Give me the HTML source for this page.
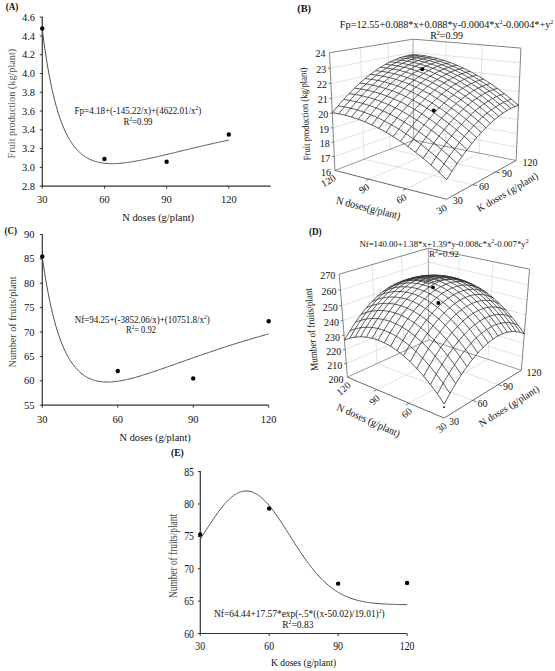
<!DOCTYPE html><html><head><meta charset="utf-8"><style>html,body{margin:0;padding:0;background:#fff;width:555px;height:671px;overflow:hidden}svg{display:block}</style></head><body><svg width="555" height="671" viewBox="0 0 555 671" font-family="'Liberation Serif', serif">
<rect width="555" height="671" fill="#fff"/>
<line x1="42.30" y1="16.70" x2="42.30" y2="186.60" stroke="#333" stroke-width="1.2"/>
<line x1="41.80" y1="186.10" x2="270.70" y2="186.10" stroke="#333" stroke-width="1.2"/>
<line x1="39.80" y1="186.10" x2="42.30" y2="186.10" stroke="#333" stroke-width="1"/>
<text x="35.00" y="189.70" font-size="10.5" text-anchor="end" fill="#111" >2.8</text>
<line x1="39.80" y1="167.33" x2="42.30" y2="167.33" stroke="#333" stroke-width="1"/>
<text x="35.00" y="170.93" font-size="10.5" text-anchor="end" fill="#111" >3.0</text>
<line x1="39.80" y1="148.57" x2="42.30" y2="148.57" stroke="#333" stroke-width="1"/>
<text x="35.00" y="152.17" font-size="10.5" text-anchor="end" fill="#111" >3.2</text>
<line x1="39.80" y1="129.80" x2="42.30" y2="129.80" stroke="#333" stroke-width="1"/>
<text x="35.00" y="133.40" font-size="10.5" text-anchor="end" fill="#111" >3.4</text>
<line x1="39.80" y1="111.03" x2="42.30" y2="111.03" stroke="#333" stroke-width="1"/>
<text x="35.00" y="114.63" font-size="10.5" text-anchor="end" fill="#111" >3.6</text>
<line x1="39.80" y1="92.27" x2="42.30" y2="92.27" stroke="#333" stroke-width="1"/>
<text x="35.00" y="95.87" font-size="10.5" text-anchor="end" fill="#111" >3.8</text>
<line x1="39.80" y1="73.50" x2="42.30" y2="73.50" stroke="#333" stroke-width="1"/>
<text x="35.00" y="77.10" font-size="10.5" text-anchor="end" fill="#111" >4.0</text>
<line x1="39.80" y1="54.73" x2="42.30" y2="54.73" stroke="#333" stroke-width="1"/>
<text x="35.00" y="58.33" font-size="10.5" text-anchor="end" fill="#111" >4.2</text>
<line x1="39.80" y1="35.97" x2="42.30" y2="35.97" stroke="#333" stroke-width="1"/>
<text x="35.00" y="39.57" font-size="10.5" text-anchor="end" fill="#111" >4.4</text>
<line x1="39.80" y1="17.20" x2="42.30" y2="17.20" stroke="#333" stroke-width="1"/>
<text x="35.00" y="20.80" font-size="10.5" text-anchor="end" fill="#111" >4.6</text>
<line x1="42.25" y1="186.10" x2="42.25" y2="188.60" stroke="#333" stroke-width="1"/>
<line x1="104.43" y1="186.10" x2="104.43" y2="188.60" stroke="#333" stroke-width="1"/>
<line x1="166.62" y1="186.10" x2="166.62" y2="188.60" stroke="#333" stroke-width="1"/>
<line x1="228.80" y1="186.10" x2="228.80" y2="188.60" stroke="#333" stroke-width="1"/>
<polyline points="42.25,28.94 43.19,36.40 44.12,43.44 45.06,50.08 46.00,56.36 46.94,62.29 47.87,67.89 48.81,73.19 49.75,78.20 50.69,82.94 51.62,87.42 52.56,91.67 53.50,95.69 54.44,99.50 55.37,103.11 56.31,106.52 57.25,109.76 58.19,112.83 59.12,115.75 60.06,118.51 61.00,121.12 61.94,123.60 62.87,125.96 63.81,128.19 64.75,130.30 65.69,132.31 66.62,134.21 67.56,136.02 68.50,137.73 69.44,139.35 70.37,140.89 71.31,142.35 72.25,143.73 73.19,145.04 74.12,146.28 75.06,147.45 76.00,148.56 76.94,149.61 77.87,150.60 78.81,151.54 79.75,152.43 80.68,153.27 81.62,154.06 82.56,154.81 83.50,155.51 84.43,156.17 85.37,156.79 86.31,157.38 87.25,157.93 88.18,158.45 89.12,158.93 90.06,159.38 91.00,159.80 91.93,160.20 92.87,160.56 93.81,160.90 94.75,161.22 95.68,161.51 96.62,161.78 97.56,162.02 98.50,162.25 99.43,162.46 100.37,162.64 101.31,162.81 102.25,162.96 103.18,163.09 104.12,163.21 105.06,163.31 106.00,163.40 106.93,163.47 107.87,163.53 108.81,163.58 109.75,163.61 110.68,163.63 111.62,163.64 112.56,163.64 113.50,163.63 114.43,163.61 115.37,163.58 116.31,163.54 117.24,163.49 118.18,163.43 119.12,163.36 120.06,163.29 120.99,163.21 121.93,163.12 122.87,163.02 123.81,162.92 124.74,162.81 125.68,162.70 126.62,162.58 127.56,162.45 128.49,162.32 129.43,162.19 130.37,162.05 131.31,161.90 132.24,161.75 133.18,161.60 134.12,161.44 135.06,161.28 135.99,161.11 136.93,160.94 137.87,160.77 138.81,160.59 139.74,160.41 140.68,160.23 141.62,160.05 142.56,159.86 143.49,159.67 144.43,159.48 145.37,159.28 146.31,159.09 147.24,158.89 148.18,158.69 149.12,158.49 150.06,158.28 150.99,158.08 151.93,157.87 152.87,157.66 153.81,157.45 154.74,157.24 155.68,157.02 156.62,156.81 157.55,156.60 158.49,156.38 159.43,156.16 160.37,155.94 161.30,155.73 162.24,155.51 163.18,155.29 164.12,155.06 165.05,154.84 165.99,154.62 166.93,154.40 167.87,154.17 168.80,153.95 169.74,153.73 170.68,153.50 171.62,153.28 172.55,153.05 173.49,152.83 174.43,152.60 175.37,152.38 176.30,152.15 177.24,151.93 178.18,151.70 179.12,151.48 180.05,151.25 180.99,151.03 181.93,150.80 182.87,150.58 183.80,150.35 184.74,150.13 185.68,149.90 186.62,149.68 187.55,149.46 188.49,149.23 189.43,149.01 190.37,148.78 191.30,148.56 192.24,148.34 193.18,148.12 194.11,147.90 195.05,147.67 195.99,147.45 196.93,147.23 197.86,147.01 198.80,146.79 199.74,146.57 200.68,146.35 201.61,146.14 202.55,145.92 203.49,145.70 204.43,145.48 205.36,145.27 206.30,145.05 207.24,144.84 208.18,144.62 209.11,144.41 210.05,144.19 210.99,143.98 211.93,143.77 212.86,143.55 213.80,143.34 214.74,143.13 215.68,142.92 216.61,142.71 217.55,142.50 218.49,142.30 219.43,142.09 220.36,141.88 221.30,141.67 222.24,141.47 223.18,141.26 224.11,141.06 225.05,140.86 225.99,140.65 226.93,140.45 227.86,140.25 228.80,140.05" stroke="#505050" stroke-width="1.0" fill="none"/>
<circle cx="42.25" cy="28.46" r="2.2" fill="#000"/>
<circle cx="104.43" cy="158.89" r="2.2" fill="#000"/>
<circle cx="166.62" cy="161.70" r="2.2" fill="#000"/>
<circle cx="228.80" cy="134.49" r="2.2" fill="#000"/>
<text x="42.25" y="203.20" font-size="10.5" text-anchor="middle" fill="#111" >30</text>
<text x="104.43" y="203.20" font-size="10.5" text-anchor="middle" fill="#111" >60</text>
<text x="166.62" y="203.20" font-size="10.5" text-anchor="middle" fill="#111" >90</text>
<text x="228.80" y="203.20" font-size="10.5" text-anchor="middle" fill="#111" >120</text>
<text x="5.70" y="9.90" font-size="9.5" text-anchor="start" fill="#111" font-weight="bold" textLength="12.70" lengthAdjust="spacingAndGlyphs" >(A)</text>
<text x="122.30" y="221.00" font-size="11" text-anchor="start" fill="#111" textLength="71.70" lengthAdjust="spacingAndGlyphs" >N doses (g/plant)</text>
<text x="14.60" y="158.40" font-size="11" text-anchor="start" fill="#555" textLength="109.60" lengthAdjust="spacingAndGlyphs" transform="rotate(-90.00 14.60 158.40)" >Fruit production (kg/plant)</text>
<text x="74.50" y="113.60" font-size="10" text-anchor="start" fill="#111" textLength="126.80" lengthAdjust="spacingAndGlyphs" >Fp=4.18+(-145.22/x)+(4622.01/x<tspan dy="-4" font-size="6">2</tspan><tspan dy="4">)</tspan></text>
<text x="123.50" y="125.20" font-size="10" text-anchor="start" fill="#111" textLength="29.00" lengthAdjust="spacingAndGlyphs" >R<tspan dy="-4" font-size="6">2</tspan><tspan dy="4">=0.99</tspan></text>
<line x1="42.30" y1="234.00" x2="42.30" y2="405.70" stroke="#333" stroke-width="1.2"/>
<line x1="41.80" y1="405.20" x2="268.70" y2="405.20" stroke="#333" stroke-width="1.2"/>
<line x1="39.80" y1="405.20" x2="42.30" y2="405.20" stroke="#333" stroke-width="1"/>
<text x="34.50" y="408.80" font-size="10.5" text-anchor="end" fill="#111" >55</text>
<line x1="39.80" y1="380.81" x2="42.30" y2="380.81" stroke="#333" stroke-width="1"/>
<text x="34.50" y="384.41" font-size="10.5" text-anchor="end" fill="#111" >60</text>
<line x1="39.80" y1="356.43" x2="42.30" y2="356.43" stroke="#333" stroke-width="1"/>
<text x="34.50" y="360.03" font-size="10.5" text-anchor="end" fill="#111" >65</text>
<line x1="39.80" y1="332.04" x2="42.30" y2="332.04" stroke="#333" stroke-width="1"/>
<text x="34.50" y="335.64" font-size="10.5" text-anchor="end" fill="#111" >70</text>
<line x1="39.80" y1="307.66" x2="42.30" y2="307.66" stroke="#333" stroke-width="1"/>
<text x="34.50" y="311.26" font-size="10.5" text-anchor="end" fill="#111" >75</text>
<line x1="39.80" y1="283.27" x2="42.30" y2="283.27" stroke="#333" stroke-width="1"/>
<text x="34.50" y="286.87" font-size="10.5" text-anchor="end" fill="#111" >80</text>
<line x1="39.80" y1="258.89" x2="42.30" y2="258.89" stroke="#333" stroke-width="1"/>
<text x="34.50" y="262.49" font-size="10.5" text-anchor="end" fill="#111" >85</text>
<line x1="39.80" y1="234.50" x2="42.30" y2="234.50" stroke="#333" stroke-width="1"/>
<text x="34.50" y="238.10" font-size="10.5" text-anchor="end" fill="#111" >90</text>
<line x1="42.30" y1="405.20" x2="42.30" y2="407.70" stroke="#333" stroke-width="1"/>
<line x1="117.77" y1="405.20" x2="117.77" y2="407.70" stroke="#333" stroke-width="1"/>
<line x1="193.23" y1="405.20" x2="193.23" y2="407.70" stroke="#333" stroke-width="1"/>
<line x1="268.70" y1="405.20" x2="268.70" y2="407.70" stroke="#333" stroke-width="1"/>
<polyline points="42.30,257.36 43.44,265.24 44.58,272.64 45.71,279.60 46.85,286.13 47.99,292.28 49.13,298.07 50.26,303.51 51.40,308.63 52.54,313.45 53.68,317.98 54.81,322.25 55.95,326.27 57.09,330.05 58.23,333.61 59.37,336.96 60.50,340.11 61.64,343.08 62.78,345.87 63.92,348.50 65.05,350.97 66.19,353.29 67.33,355.48 68.47,357.53 69.60,359.45 70.74,361.26 71.88,362.95 73.02,364.54 74.16,366.03 75.29,367.43 76.43,368.73 77.57,369.95 78.71,371.08 79.84,372.14 80.98,373.12 82.12,374.04 83.26,374.89 84.39,375.68 85.53,376.40 86.67,377.08 87.81,377.69 88.95,378.26 90.08,378.77 91.22,379.25 92.36,379.67 93.50,380.06 94.63,380.40 95.77,380.71 96.91,380.98 98.05,381.21 99.18,381.42 100.32,381.59 101.46,381.73 102.60,381.85 103.74,381.93 104.87,381.99 106.01,382.03 107.15,382.04 108.29,382.03 109.42,382.00 110.56,381.95 111.70,381.89 112.84,381.80 113.97,381.69 115.11,381.57 116.25,381.43 117.39,381.28 118.53,381.12 119.66,380.94 120.80,380.74 121.94,380.54 123.08,380.32 124.21,380.09 125.35,379.85 126.49,379.60 127.63,379.34 128.76,379.08 129.90,378.80 131.04,378.51 132.18,378.22 133.32,377.92 134.45,377.62 135.59,377.30 136.73,376.98 137.87,376.66 139.00,376.32 140.14,375.99 141.28,375.64 142.42,375.30 143.55,374.95 144.69,374.59 145.83,374.23 146.97,373.87 148.11,373.50 149.24,373.13 150.38,372.76 151.52,372.38 152.66,372.00 153.79,371.62 154.93,371.24 156.07,370.85 157.21,370.46 158.34,370.07 159.48,369.68 160.62,369.29 161.76,368.89 162.89,368.49 164.03,368.10 165.17,367.70 166.31,367.30 167.45,366.90 168.58,366.50 169.72,366.10 170.86,365.69 172.00,365.29 173.13,364.89 174.27,364.48 175.41,364.08 176.55,363.68 177.68,363.27 178.82,362.87 179.96,362.46 181.10,362.06 182.24,361.66 183.37,361.25 184.51,360.85 185.65,360.45 186.79,360.05 187.92,359.64 189.06,359.24 190.20,358.84 191.34,358.44 192.47,358.04 193.61,357.65 194.75,357.25 195.89,356.85 197.03,356.46 198.16,356.06 199.30,355.67 200.44,355.27 201.58,354.88 202.71,354.49 203.85,354.10 204.99,353.71 206.13,353.32 207.26,352.93 208.40,352.55 209.54,352.16 210.68,351.78 211.82,351.39 212.95,351.01 214.09,350.63 215.23,350.25 216.37,349.87 217.50,349.50 218.64,349.12 219.78,348.75 220.92,348.37 222.05,348.00 223.19,347.63 224.33,347.26 225.47,346.89 226.61,346.53 227.74,346.16 228.88,345.80 230.02,345.43 231.16,345.07 232.29,344.71 233.43,344.35 234.57,344.00 235.71,343.64 236.84,343.29 237.98,342.93 239.12,342.58 240.26,342.23 241.40,341.88 242.53,341.53 243.67,341.19 244.81,340.84 245.95,340.50 247.08,340.16 248.22,339.82 249.36,339.48 250.50,339.14 251.63,338.80 252.77,338.47 253.91,338.13 255.05,337.80 256.19,337.47 257.32,337.14 258.46,336.81 259.60,336.48 260.74,336.16 261.87,335.83 263.01,335.51 264.15,335.19 265.29,334.87 266.42,334.55 267.56,334.23 268.70,333.92" stroke="#505050" stroke-width="1.0" fill="none"/>
<circle cx="42.30" cy="256.45" r="2.2" fill="#000"/>
<circle cx="117.77" cy="371.06" r="2.2" fill="#000"/>
<circle cx="193.23" cy="378.38" r="2.2" fill="#000"/>
<circle cx="268.70" cy="321.31" r="2.2" fill="#000"/>
<text x="42.30" y="423.00" font-size="10.5" text-anchor="middle" fill="#111" >30</text>
<text x="117.77" y="423.00" font-size="10.5" text-anchor="middle" fill="#111" >60</text>
<text x="193.23" y="423.00" font-size="10.5" text-anchor="middle" fill="#111" >90</text>
<text x="268.70" y="423.00" font-size="10.5" text-anchor="middle" fill="#111" >120</text>
<text x="4.60" y="233.70" font-size="9.5" text-anchor="start" fill="#111" font-weight="bold" textLength="12.40" lengthAdjust="spacingAndGlyphs" >(C)</text>
<text x="119.60" y="441.20" font-size="11" text-anchor="start" fill="#111" textLength="71.10" lengthAdjust="spacingAndGlyphs" >N doses (g/plant)</text>
<text x="16.20" y="367.40" font-size="11" text-anchor="start" fill="#3a3a3a" textLength="91.00" lengthAdjust="spacingAndGlyphs" transform="rotate(-90.00 16.20 367.40)" >Number of fruits/plant</text>
<text x="74.70" y="323.40" font-size="10" text-anchor="start" fill="#111" textLength="135.00" lengthAdjust="spacingAndGlyphs" >Nf=94.25+(-3852.06/x)+(10751.8/x<tspan dy="-4" font-size="6">2</tspan><tspan dy="4">)</tspan></text>
<text x="126.00" y="333.40" font-size="10" text-anchor="start" fill="#111" textLength="30.00" lengthAdjust="spacingAndGlyphs" >R<tspan dy="-4" font-size="6">2</tspan><tspan dy="4">= 0.92</tspan></text>
<line x1="200.30" y1="471.10" x2="200.30" y2="634.00" stroke="#333" stroke-width="1.2"/>
<line x1="199.80" y1="633.50" x2="407.10" y2="633.50" stroke="#333" stroke-width="1.2"/>
<line x1="197.80" y1="633.50" x2="200.30" y2="633.50" stroke="#333" stroke-width="1"/>
<text x="194.00" y="637.50" font-size="11.5" text-anchor="end" fill="#111" textLength="9.80" lengthAdjust="spacingAndGlyphs" >60</text>
<line x1="197.80" y1="601.12" x2="200.30" y2="601.12" stroke="#333" stroke-width="1"/>
<text x="194.00" y="605.12" font-size="11.5" text-anchor="end" fill="#111" textLength="9.80" lengthAdjust="spacingAndGlyphs" >65</text>
<line x1="197.80" y1="568.74" x2="200.30" y2="568.74" stroke="#333" stroke-width="1"/>
<text x="194.00" y="572.74" font-size="11.5" text-anchor="end" fill="#111" textLength="9.80" lengthAdjust="spacingAndGlyphs" >70</text>
<line x1="197.80" y1="536.36" x2="200.30" y2="536.36" stroke="#333" stroke-width="1"/>
<text x="194.00" y="540.36" font-size="11.5" text-anchor="end" fill="#111" textLength="9.80" lengthAdjust="spacingAndGlyphs" >75</text>
<line x1="197.80" y1="503.98" x2="200.30" y2="503.98" stroke="#333" stroke-width="1"/>
<text x="194.00" y="507.98" font-size="11.5" text-anchor="end" fill="#111" textLength="9.80" lengthAdjust="spacingAndGlyphs" >80</text>
<line x1="197.80" y1="471.60" x2="200.30" y2="471.60" stroke="#333" stroke-width="1"/>
<text x="194.00" y="475.60" font-size="11.5" text-anchor="end" fill="#111" textLength="9.80" lengthAdjust="spacingAndGlyphs" >85</text>
<line x1="200.20" y1="633.50" x2="200.20" y2="636.00" stroke="#333" stroke-width="1"/>
<line x1="269.17" y1="633.50" x2="269.17" y2="636.00" stroke="#333" stroke-width="1"/>
<line x1="338.13" y1="633.50" x2="338.13" y2="636.00" stroke="#333" stroke-width="1"/>
<line x1="407.10" y1="633.50" x2="407.10" y2="636.00" stroke="#333" stroke-width="1"/>
<polyline points="200.20,539.40 201.24,537.76 202.28,536.12 203.32,534.47 204.36,532.83 205.40,531.20 206.44,529.57 207.48,527.94 208.52,526.33 209.56,524.72 210.60,523.13 211.64,521.56 212.68,520.00 213.72,518.46 214.76,516.95 215.80,515.46 216.84,513.99 217.87,512.55 218.91,511.14 219.95,509.77 220.99,508.43 222.03,507.12 223.07,505.86 224.11,504.63 225.15,503.45 226.19,502.31 227.23,501.22 228.27,500.17 229.31,499.17 230.35,498.23 231.39,497.33 232.43,496.49 233.47,495.71 234.51,494.98 235.55,494.31 236.59,493.69 237.63,493.14 238.67,492.65 239.71,492.22 240.75,491.85 241.79,491.55 242.83,491.31 243.87,491.13 244.91,491.01 245.95,490.97 246.99,490.98 248.03,491.06 249.07,491.20 250.11,491.41 251.15,491.68 252.18,492.02 253.22,492.41 254.26,492.87 255.30,493.39 256.34,493.97 257.38,494.61 258.42,495.31 259.46,496.07 260.50,496.88 261.54,497.74 262.58,498.66 263.62,499.63 264.66,500.65 265.70,501.72 266.74,502.84 267.78,504.00 268.82,505.20 269.86,506.45 270.90,507.73 271.94,509.05 272.98,510.41 274.02,511.80 275.06,513.22 276.10,514.67 277.14,516.15 278.18,517.65 279.22,519.18 280.26,520.73 281.30,522.29 282.34,523.87 283.38,525.47 284.42,527.08 285.46,528.70 286.49,530.33 287.53,531.96 288.57,533.60 289.61,535.24 290.65,536.88 291.69,538.52 292.73,540.16 293.77,541.79 294.81,543.42 295.85,545.04 296.89,546.65 297.93,548.24 298.97,549.83 300.01,551.40 301.05,552.95 302.09,554.49 303.13,556.01 304.17,557.51 305.21,558.99 306.25,560.45 307.29,561.88 308.33,563.29 309.37,564.68 310.41,566.05 311.45,567.39 312.49,568.70 313.53,569.99 314.57,571.25 315.61,572.48 316.65,573.69 317.69,574.86 318.73,576.01 319.77,577.13 320.81,578.22 321.84,579.28 322.88,580.32 323.92,581.32 324.96,582.30 326.00,583.25 327.04,584.17 328.08,585.06 329.12,585.92 330.16,586.76 331.20,587.57 332.24,588.35 333.28,589.10 334.32,589.83 335.36,590.53 336.40,591.21 337.44,591.86 338.48,592.49 339.52,593.09 340.56,593.67 341.60,594.23 342.64,594.77 343.68,595.28 344.72,595.77 345.76,596.24 346.80,596.69 347.84,597.12 348.88,597.54 349.92,597.93 350.96,598.31 352.00,598.66 353.04,599.01 354.08,599.33 355.12,599.64 356.15,599.94 357.19,600.22 358.23,600.48 359.27,600.74 360.31,600.98 361.35,601.21 362.39,601.42 363.43,601.63 364.47,601.82 365.51,602.00 366.55,602.18 367.59,602.34 368.63,602.50 369.67,602.64 370.71,602.78 371.75,602.91 372.79,603.03 373.83,603.14 374.87,603.25 375.91,603.35 376.95,603.45 377.99,603.54 379.03,603.62 380.07,603.70 381.11,603.77 382.15,603.84 383.19,603.91 384.23,603.97 385.27,604.03 386.31,604.08 387.35,604.13 388.39,604.17 389.43,604.22 390.46,604.26 391.50,604.29 392.54,604.33 393.58,604.36 394.62,604.39 395.66,604.42 396.70,604.44 397.74,604.47 398.78,604.49 399.82,604.51 400.86,604.53 401.90,604.55 402.94,604.56 403.98,604.58 405.02,604.59 406.06,604.60 407.10,604.62" stroke="#505050" stroke-width="1.0" fill="none"/>
<circle cx="200.20" cy="534.42" r="2.2" fill="#000"/>
<circle cx="269.17" cy="508.51" r="2.2" fill="#000"/>
<circle cx="338.13" cy="583.63" r="2.2" fill="#000"/>
<circle cx="407.10" cy="582.99" r="2.2" fill="#000"/>
<text x="200.20" y="649.80" font-size="11.5" text-anchor="middle" fill="#111" textLength="9.80" lengthAdjust="spacingAndGlyphs" >30</text>
<text x="269.17" y="649.80" font-size="11.5" text-anchor="middle" fill="#111" textLength="9.80" lengthAdjust="spacingAndGlyphs" >60</text>
<text x="338.13" y="649.80" font-size="11.5" text-anchor="middle" fill="#111" textLength="9.80" lengthAdjust="spacingAndGlyphs" >90</text>
<text x="407.10" y="649.80" font-size="11.5" text-anchor="middle" fill="#111" textLength="14.70" lengthAdjust="spacingAndGlyphs" >120</text>
<text x="171.00" y="456.40" font-size="9.5" text-anchor="start" fill="#111" font-weight="bold" textLength="12.70" lengthAdjust="spacingAndGlyphs" >(E)</text>
<text x="271.00" y="666.20" font-size="11" text-anchor="start" fill="#111" textLength="65.20" lengthAdjust="spacingAndGlyphs" >K doses (g/plant)</text>
<text x="177.20" y="598.00" font-size="11.5" text-anchor="start" fill="#444" textLength="84.00" lengthAdjust="spacingAndGlyphs" transform="rotate(-90.00 177.20 598.00)" >Number of fruits/plant</text>
<text x="214.00" y="616.50" font-size="10" text-anchor="start" fill="#111" textLength="170.70" lengthAdjust="spacingAndGlyphs" >Nf=64.44+17.57*exp(-.5*((x-50.02)/19.01)<tspan dy="-4" font-size="6">2</tspan><tspan dy="4">)</tspan></text>
<text x="282.20" y="628.20" font-size="10" text-anchor="start" fill="#111" textLength="31.30" lengthAdjust="spacingAndGlyphs" >R<tspan dy="-4" font-size="6">2</tspan><tspan dy="4">=0.83</tspan></text>
<polyline points="334.29,156.42 413.59,127.96 516.71,147.07" stroke="#dcdcdc" stroke-width="0.8" fill="none"/>
<polyline points="333.64,142.22 413.50,115.72 517.29,133.49" stroke="#dcdcdc" stroke-width="0.8" fill="none"/>
<polyline points="332.98,127.83 413.41,103.34 517.88,119.73" stroke="#dcdcdc" stroke-width="0.8" fill="none"/>
<polyline points="332.31,113.23 413.32,90.81 518.47,105.78" stroke="#dcdcdc" stroke-width="0.8" fill="none"/>
<polyline points="331.63,98.43 413.23,78.13 519.07,91.65" stroke="#dcdcdc" stroke-width="0.8" fill="none"/>
<polyline points="330.94,83.42 413.14,65.30 519.68,77.32" stroke="#dcdcdc" stroke-width="0.8" fill="none"/>
<polyline points="330.24,68.19 413.04,52.32 520.30,62.81" stroke="#dcdcdc" stroke-width="0.8" fill="none"/>
<polyline points="364.06,159.19 360.55,47.70" stroke="#dcdcdc" stroke-width="0.8" fill="none"/>
<polyline points="479.39,153.15 482.05,44.88" stroke="#dcdcdc" stroke-width="0.8" fill="none"/>
<polyline points="364.06,159.19 472.62,184.71" stroke="#dcdcdc" stroke-width="0.8" fill="none"/>
<polyline points="405.97,188.76 479.39,153.15" stroke="#dcdcdc" stroke-width="0.8" fill="none"/>
<polyline points="390.16,149.13 388.18,43.20" stroke="#dcdcdc" stroke-width="0.8" fill="none"/>
<polyline points="445.33,146.36 446.17,41.92" stroke="#dcdcdc" stroke-width="0.8" fill="none"/>
<polyline points="390.16,149.13 495.66,171.89" stroke="#dcdcdc" stroke-width="0.8" fill="none"/>
<polyline points="368.91,179.20 445.33,146.36" stroke="#dcdcdc" stroke-width="0.8" fill="none"/>
<polyline points="334.93,170.43 329.54,52.74 412.95,39.17 520.92,48.09 516.14,160.48" stroke="#858585" stroke-width="1" fill="none"/>
<polyline points="334.93,170.43 413.68,140.05 516.14,160.48" stroke="#8a8a8a" stroke-width="0.9" fill="none"/>
<polyline points="413.68,140.05 412.95,39.17" stroke="#9a9a9a" stroke-width="0.9" fill="none"/>
<polyline points="334.93,170.43 446.54,199.24 516.14,160.48" stroke="#6a6a6a" stroke-width="1" fill="none"/>
<polyline points="472.62,184.71 476.95,185.73" stroke="#666" stroke-width="0.9" fill="none"/>
<polyline points="405.97,188.76 402.89,190.26" stroke="#666" stroke-width="0.9" fill="none"/>
<polyline points="495.66,171.89 499.83,172.79" stroke="#666" stroke-width="0.9" fill="none"/>
<polyline points="368.91,179.20 365.73,180.56" stroke="#666" stroke-width="0.9" fill="none"/>
<polyline points="334.29,156.42 332.09,156.42" stroke="#666" stroke-width="0.9" fill="none"/>
<polyline points="333.64,142.22 331.44,142.22" stroke="#666" stroke-width="0.9" fill="none"/>
<polyline points="332.98,127.83 330.78,127.83" stroke="#666" stroke-width="0.9" fill="none"/>
<polyline points="332.31,113.23 330.11,113.23" stroke="#666" stroke-width="0.9" fill="none"/>
<polyline points="331.63,98.43 329.43,98.43" stroke="#666" stroke-width="0.9" fill="none"/>
<polyline points="330.94,83.42 328.74,83.42" stroke="#666" stroke-width="0.9" fill="none"/>
<polyline points="330.24,68.19 328.04,68.19" stroke="#666" stroke-width="0.9" fill="none"/>
<polyline points="446.72,179.62 448.83,176.23 450.93,172.93 453.02,169.72 455.08,166.59 457.13,163.55 459.17,160.60 461.18,157.73 463.18,154.94 465.16,152.23 467.13,149.61 469.08,147.07 471.01,144.61 472.92,142.23 474.82,139.92 476.70,137.70 478.57,135.55 480.42,133.48 482.25,131.49 484.07,129.57 485.87,127.73 487.65,125.95 489.41,124.26 491.16,122.63 492.90,121.08 494.62,119.59 496.32,118.18 498.00,116.84 499.67,115.56 501.33,114.35 502.97,113.21 504.59,112.13 506.19,111.12 507.79,110.18 509.36,109.30 510.92,108.48 512.46,107.72 513.99,107.03 515.51,106.39 517.01,105.82 518.49,105.31" stroke="#303030" stroke-width="0.8" fill="none"/>
<polyline points="446.72,179.62 443.52,176.54 440.35,173.54 437.19,170.61 434.05,167.77 430.92,164.99 427.80,162.29 424.71,159.67 421.63,157.13 418.56,154.65 415.51,152.26 412.48,149.93 409.47,147.68 406.47,145.51 403.49,143.40 400.53,141.37 397.58,139.41 394.65,137.52 391.74,135.70 388.85,133.96 385.97,132.28 383.11,130.67 380.27,129.14 377.45,127.67 374.65,126.27 371.86,124.93 369.09,123.67 366.34,122.47 363.61,121.34 360.90,120.27 358.20,119.27 355.53,118.33 352.87,117.46 350.23,116.65 347.61,115.91 345.01,115.23 342.43,114.61 339.86,114.05 337.32,113.55 334.79,113.11 332.29,112.74" stroke="#303030" stroke-width="0.8" fill="none"/>
<polyline points="438.77,172.07 440.90,168.73 443.02,165.48 445.12,162.31 447.21,159.24 449.28,156.24 451.33,153.33 453.36,150.51 455.38,147.76 457.38,145.10 459.36,142.52 461.33,140.03 463.28,137.61 465.22,135.27 467.14,133.01 469.04,130.82 470.92,128.72 472.79,126.69 474.65,124.73 476.48,122.85 478.30,121.04 480.11,119.31 481.89,117.65 483.67,116.06 485.42,114.54 487.16,113.09 488.88,111.71 490.59,110.40 492.28,109.16 493.96,107.99 495.62,106.88 497.26,105.83 498.89,104.86 500.50,103.94 502.10,103.09 503.68,102.30 505.25,101.58 506.80,100.91 508.34,100.31 509.86,99.77 511.37,99.28" stroke="#303030" stroke-width="0.8" fill="none"/>
<polyline points="451.98,171.32 448.80,168.29 445.65,165.33 442.50,162.46 439.38,159.66 436.26,156.93 433.17,154.28 430.09,151.70 427.02,149.20 423.97,146.77 420.94,144.42 417.92,142.14 414.92,139.93 411.94,137.79 408.97,135.73 406.02,133.74 403.08,131.82 400.17,129.97 397.27,128.19 394.38,126.48 391.52,124.84 388.67,123.27 385.84,121.76 383.03,120.33 380.23,118.96 377.45,117.66 374.69,116.43 371.95,115.26 369.23,114.16 366.52,113.13 363.84,112.16 361.17,111.25 358.51,110.41 355.88,109.63 353.27,108.91 350.67,108.26 348.09,107.67 345.53,107.13 342.99,106.66 340.47,106.25 337.97,105.90" stroke="#303030" stroke-width="0.8" fill="none"/>
<polyline points="430.92,164.99 433.07,161.70 435.20,158.50 437.32,155.38 439.42,152.35 441.51,149.40 443.58,146.53 445.63,143.75 447.67,141.05 449.69,138.44 451.69,135.90 453.67,133.44 455.64,131.06 457.60,128.76 459.54,126.54 461.46,124.40 463.36,122.33 465.25,120.33 467.12,118.42 468.98,116.57 470.82,114.80 472.64,113.10 474.45,111.48 476.24,109.92 478.02,108.44 479.78,107.02 481.52,105.68 483.25,104.40 484.96,103.19 486.66,102.05 488.34,100.97 490.00,99.96 491.65,99.01 493.29,98.12 494.91,97.30 496.51,96.54 498.10,95.85 499.67,95.21 501.23,94.63 502.78,94.11 504.30,93.66" stroke="#303030" stroke-width="0.8" fill="none"/>
<polyline points="457.13,163.55 453.98,160.57 450.84,157.67 447.71,154.84 444.60,152.08 441.51,149.40 438.43,146.79 435.36,144.26 432.31,141.80 429.28,139.42 426.26,137.10 423.26,134.86 420.27,132.69 417.30,130.60 414.35,128.57 411.41,126.62 408.49,124.74 405.58,122.92 402.70,121.18 399.82,119.50 396.97,117.90 394.13,116.36 391.31,114.89 388.51,113.49 385.72,112.16 382.96,110.89 380.21,109.69 377.47,108.55 374.76,107.48 372.06,106.48 369.38,105.54 366.72,104.66 364.07,103.84 361.44,103.09 358.84,102.40 356.25,101.77 353.67,101.20 351.12,100.70 348.58,100.25 346.06,99.86 343.56,99.54" stroke="#303030" stroke-width="0.8" fill="none"/>
<polyline points="423.16,158.39 425.33,155.15 427.48,151.99 429.62,148.92 431.73,145.93 433.84,143.02 435.92,140.20 437.99,137.46 440.04,134.80 442.08,132.22 444.10,129.73 446.10,127.31 448.09,124.97 450.06,122.71 452.02,120.52 453.96,118.42 455.88,116.38 457.79,114.43 459.68,112.54 461.55,110.73 463.41,109.00 465.26,107.33 467.08,105.74 468.89,104.22 470.69,102.77 472.47,101.38 474.23,100.07 475.98,98.82 477.71,97.64 479.43,96.52 481.13,95.48 482.82,94.49 484.49,93.57 486.14,92.72 487.78,91.92 489.41,91.19 491.02,90.52 492.61,89.91 494.19,89.36 495.76,88.86 497.31,88.43" stroke="#303030" stroke-width="0.8" fill="none"/>
<polyline points="462.18,156.32 459.05,153.39 455.93,150.53 452.82,147.74 449.73,145.03 446.65,142.39 443.59,139.83 440.54,137.34 437.50,134.92 434.49,132.58 431.48,130.30 428.50,128.10 425.52,125.97 422.57,123.91 419.63,121.92 416.70,120.01 413.80,118.16 410.90,116.38 408.03,114.67 405.17,113.03 402.33,111.46 399.50,109.96 396.69,108.52 393.90,107.15 391.12,105.84 388.37,104.61 385.62,103.43 382.90,102.33 380.19,101.29 377.50,100.31 374.83,99.39 372.18,98.54 369.54,97.75 366.92,97.02 364.32,96.36 361.73,95.75 359.17,95.21 356.62,94.73 354.09,94.30 351.57,93.94 349.08,93.63" stroke="#303030" stroke-width="0.8" fill="none"/>
<polyline points="415.51,152.26 417.70,149.06 419.86,145.94 422.01,142.91 424.14,139.97 426.26,137.10 428.36,134.32 430.45,131.62 432.52,129.00 434.57,126.46 436.61,124.00 438.63,121.62 440.63,119.32 442.62,117.10 444.59,114.95 446.55,112.88 448.49,110.88 450.41,108.96 452.32,107.11 454.22,105.33 456.09,103.63 457.95,101.99 459.80,100.43 461.63,98.94 463.44,97.52 465.24,96.16 467.02,94.88 468.79,93.66 470.54,92.51 472.28,91.42 474.00,90.40 475.71,89.44 477.40,88.55 479.07,87.72 480.73,86.95 482.38,86.24 484.01,85.59 485.62,85.01 487.22,84.48 488.80,84.01 490.37,83.60" stroke="#303030" stroke-width="0.8" fill="none"/>
<polyline points="467.13,149.61 464.01,146.72 460.91,143.91 457.82,141.16 454.75,138.49 451.69,135.90 448.64,133.37 445.61,130.92 442.59,128.55 439.59,126.24 436.61,124.00 433.63,121.84 430.68,119.75 427.74,117.73 424.81,115.77 421.90,113.89 419.01,112.08 416.13,110.33 413.26,108.66 410.42,107.05 407.59,105.51 404.77,104.03 401.98,102.63 399.19,101.28 396.43,100.01 393.68,98.80 390.95,97.66 388.24,96.58 385.54,95.56 382.86,94.61 380.19,93.72 377.55,92.89 374.92,92.13 372.31,91.42 369.71,90.78 367.13,90.20 364.57,89.68 362.03,89.21 359.51,88.81 357.00,88.47 354.51,88.18" stroke="#303030" stroke-width="0.8" fill="none"/>
<polyline points="407.97,146.58 410.16,143.43 412.34,140.36 414.51,137.37 416.65,134.46 418.78,131.64 420.90,128.89 423.00,126.23 425.08,123.65 427.15,121.15 429.20,118.73 431.24,116.38 433.26,114.12 435.27,111.93 437.26,109.81 439.23,107.77 441.19,105.81 443.13,103.92 445.05,102.10 446.96,100.35 448.86,98.68 450.74,97.08 452.60,95.54 454.45,94.08 456.28,92.69 458.09,91.36 459.89,90.10 461.68,88.91 463.45,87.78 465.21,86.72 466.95,85.73 468.67,84.79 470.38,83.92 472.07,83.12 473.75,82.37 475.42,81.69 477.06,81.06 478.70,80.50 480.32,79.99 481.92,79.55 483.51,79.16" stroke="#303030" stroke-width="0.8" fill="none"/>
<polyline points="471.97,143.41 468.87,140.56 465.79,137.79 462.72,135.09 459.67,132.46 456.62,129.90 453.60,127.42 450.58,125.01 447.58,122.67 444.60,120.40 441.63,118.20 438.67,116.07 435.73,114.01 432.80,112.03 429.89,110.11 427.00,108.26 424.12,106.48 421.25,104.76 418.40,103.12 415.57,101.54 412.75,100.03 409.95,98.58 407.17,97.21 404.40,95.89 401.64,94.65 398.91,93.46 396.19,92.34 393.48,91.29 390.79,90.30 388.12,89.37 385.47,88.50 382.83,87.70 380.21,86.96 377.61,86.28 375.02,85.65 372.45,85.09 369.90,84.59 367.36,84.15 364.84,83.77 362.34,83.44 359.85,83.17" stroke="#303030" stroke-width="0.8" fill="none"/>
<polyline points="400.53,141.37 402.74,138.25 404.93,135.22 407.10,132.27 409.26,129.40 411.41,126.62 413.54,123.91 415.65,121.29 417.75,118.74 419.83,116.28 421.90,113.89 423.95,111.58 425.99,109.35 428.01,107.19 430.01,105.11 432.00,103.10 433.97,101.16 435.93,99.30 437.87,97.52 439.80,95.80 441.71,94.15 443.60,92.58 445.48,91.07 447.35,89.64 449.20,88.27 451.03,86.97 452.85,85.74 454.65,84.57 456.44,83.47 458.21,82.43 459.97,81.46 461.71,80.55 463.44,79.70 465.15,78.92 466.85,78.19 468.53,77.53 470.20,76.93 471.85,76.38 473.49,75.90 475.11,75.47 476.72,75.10" stroke="#303030" stroke-width="0.8" fill="none"/>
<polyline points="476.70,137.70 473.63,134.89 470.57,132.16 467.52,129.50 464.48,126.91 461.46,124.40 458.45,121.95 455.45,119.58 452.47,117.27 449.50,115.04 446.55,112.88 443.61,110.78 440.68,108.76 437.77,106.80 434.88,104.92 432.00,103.10 429.13,101.35 426.28,99.66 423.45,98.05 420.63,96.50 417.82,95.02 415.04,93.60 412.26,92.25 409.51,90.96 406.76,89.74 404.04,88.58 401.33,87.49 398.63,86.46 395.96,85.49 393.30,84.58 390.65,83.74 388.02,82.96 385.41,82.23 382.82,81.57 380.24,80.97 377.68,80.43 375.13,79.95 372.60,79.52 370.09,79.16 367.59,78.85 365.12,78.59" stroke="#303030" stroke-width="0.8" fill="none"/>
<polyline points="393.19,136.60 395.41,133.53 397.62,130.53 399.81,127.62 401.98,124.79 404.14,122.04 406.28,119.37 408.41,116.78 410.52,114.27 412.61,111.84 414.69,109.48 416.76,107.21 418.81,105.00 420.84,102.88 422.86,100.83 424.86,98.85 426.85,96.94 428.82,95.11 430.78,93.35 432.72,91.66 434.65,90.05 436.56,88.50 438.45,87.02 440.33,85.61 442.20,84.26 444.05,82.99 445.88,81.78 447.70,80.64 449.51,79.56 451.30,78.54 453.07,77.59 454.83,76.70 456.58,75.88 458.31,75.11 460.02,74.41 461.72,73.77 463.41,73.18 465.08,72.66 466.73,72.19 468.37,71.78 470.00,71.43" stroke="#303030" stroke-width="0.8" fill="none"/>
<polyline points="481.34,132.48 478.28,129.71 475.24,127.02 472.21,124.40 469.19,121.85 466.19,119.37 463.20,116.96 460.22,114.62 457.26,112.35 454.31,110.15 451.37,108.02 448.45,105.96 445.54,103.97 442.65,102.04 439.77,100.19 436.90,98.40 434.05,96.68 431.22,95.03 428.40,93.44 425.59,91.92 422.80,90.46 420.02,89.07 417.26,87.74 414.52,86.48 411.79,85.28 409.08,84.15 406.38,83.08 403.70,82.07 401.03,81.12 398.38,80.24 395.75,79.41 393.13,78.65 390.52,77.95 387.94,77.30 385.37,76.72 382.81,76.20 380.28,75.73 377.76,75.32 375.25,74.97 372.76,74.68 370.29,74.44" stroke="#303030" stroke-width="0.8" fill="none"/>
<polyline points="385.97,132.28 388.20,129.24 390.42,126.28 392.62,123.41 394.80,120.61 396.97,117.90 399.12,115.26 401.26,112.71 403.39,110.23 405.49,107.83 407.59,105.51 409.67,103.26 411.73,101.09 413.78,98.99 415.81,96.97 417.82,95.02 419.83,93.14 421.81,91.33 423.78,89.60 425.74,87.94 427.68,86.35 429.61,84.82 431.52,83.37 433.41,81.98 435.29,80.66 437.16,79.41 439.01,78.22 440.84,77.10 442.66,76.04 444.47,75.05 446.26,74.11 448.03,73.25 449.80,72.44 451.54,71.69 453.27,71.01 454.99,70.38 456.69,69.82 458.38,69.31 460.05,68.86 461.71,68.46 463.36,68.13" stroke="#303030" stroke-width="0.8" fill="none"/>
<polyline points="485.87,127.73 482.83,125.00 479.81,122.34 476.80,119.76 473.80,117.25 470.82,114.80 467.85,112.43 464.89,110.12 461.94,107.89 459.01,105.72 456.09,103.63 453.19,101.60 450.30,99.63 447.42,97.74 444.56,95.91 441.71,94.15 438.87,92.46 436.05,90.83 433.25,89.27 430.46,87.78 427.68,86.35 424.92,84.98 422.17,83.68 419.44,82.44 416.72,81.26 414.02,80.15 411.34,79.10 408.67,78.11 406.01,77.19 403.37,76.32 400.75,75.52 398.14,74.77 395.55,74.09 392.97,73.46 390.41,72.89 387.87,72.39 385.34,71.94 382.82,71.54 380.33,71.21 377.85,70.93 375.38,70.70" stroke="#303030" stroke-width="0.8" fill="none"/>
<polyline points="378.86,128.39 381.10,125.39 383.32,122.47 385.53,119.63 387.73,116.87 389.91,114.18 392.07,111.58 394.22,109.06 396.36,106.61 398.48,104.24 400.58,101.95 402.67,99.73 404.75,97.58 406.81,95.52 408.85,93.52 410.88,91.60 412.90,89.75 414.90,87.97 416.88,86.26 418.85,84.62 420.80,83.05 422.74,81.55 424.67,80.12 426.58,78.75 428.47,77.45 430.35,76.22 432.22,75.05 434.07,73.95 435.90,72.91 437.72,71.94 439.53,71.03 441.32,70.17 443.10,69.39 444.86,68.66 446.61,67.99 448.34,67.38 450.06,66.83 451.76,66.33 453.45,65.90 455.13,65.52 456.79,65.20" stroke="#303030" stroke-width="0.8" fill="none"/>
<polyline points="490.29,123.43 487.28,120.75 484.28,118.13 481.29,115.58 478.31,113.10 475.35,110.69 472.40,108.35 469.46,106.08 466.53,103.88 463.62,101.74 460.72,99.68 457.83,97.68 454.96,95.74 452.10,93.88 449.25,92.08 446.42,90.35 443.60,88.68 440.79,87.08 438.00,85.54 435.23,84.07 432.47,82.67 429.72,81.32 426.99,80.04 424.27,78.82 421.56,77.67 418.88,76.58 416.20,75.55 413.54,74.58 410.90,73.67 408.27,72.83 405.66,72.04 403.06,71.31 400.48,70.64 397.92,70.03 395.36,69.48 392.83,68.99 390.31,68.55 387.81,68.17 385.32,67.85 382.85,67.58 380.39,67.37" stroke="#303030" stroke-width="0.8" fill="none"/>
<polyline points="371.86,124.93 374.11,121.96 376.34,119.08 378.56,116.27 380.77,113.54 382.96,110.89 385.13,108.32 387.29,105.83 389.44,103.41 391.57,101.07 393.68,98.80 395.78,96.61 397.87,94.49 399.94,92.45 402.00,90.48 404.04,88.58 406.06,86.75 408.08,85.00 410.07,83.31 412.06,81.70 414.02,80.15 415.98,78.67 417.91,77.26 419.84,75.91 421.74,74.64 423.64,73.42 425.52,72.27 427.38,71.19 429.23,70.17 431.07,69.21 432.89,68.32 434.69,67.48 436.48,66.71 438.26,66.00 440.02,65.34 441.77,64.75 443.50,64.21 445.22,63.73 446.93,63.31 448.62,62.94 450.30,62.63" stroke="#303030" stroke-width="0.8" fill="none"/>
<polyline points="494.62,119.59 491.63,116.94 488.65,114.36 485.68,111.84 482.72,109.40 479.78,107.02 476.84,104.72 473.92,102.48 471.02,100.30 468.12,98.20 465.24,96.16 462.37,94.19 459.52,92.29 456.67,90.45 453.85,88.68 451.03,86.97 448.23,85.33 445.44,83.75 442.66,82.24 439.90,80.79 437.16,79.41 434.42,78.09 431.71,76.83 429.00,75.63 426.31,74.50 423.64,73.42 420.98,72.41 418.33,71.46 415.70,70.57 413.08,69.74 410.48,68.97 407.90,68.26 405.33,67.60 402.77,67.01 400.23,66.47 397.71,65.99 395.20,65.57 392.70,65.20 390.22,64.89 387.76,64.63 385.31,64.43" stroke="#303030" stroke-width="0.8" fill="none"/>
<polyline points="364.97,121.90 367.23,118.96 369.47,116.10 371.70,113.33 373.91,110.63 376.11,108.01 378.30,105.47 380.47,103.00 382.62,100.61 384.76,98.30 386.89,96.06 389.00,93.90 391.09,91.80 393.17,89.79 395.24,87.84 397.29,85.96 399.33,84.16 401.36,82.43 403.36,80.76 405.36,79.17 407.34,77.64 409.30,76.18 411.25,74.79 413.19,73.46 415.11,72.20 417.01,71.01 418.91,69.88 420.78,68.81 422.65,67.81 424.50,66.86 426.33,65.98 428.15,65.16 429.95,64.40 431.75,63.70 433.52,63.06 435.28,62.48 437.03,61.96 438.77,61.49 440.49,61.08 442.19,60.72 443.89,60.42" stroke="#303030" stroke-width="0.8" fill="none"/>
<polyline points="498.84,116.19 495.87,113.57 492.91,111.02 489.97,108.54 487.03,106.13 484.11,103.79 481.20,101.51 478.30,99.30 475.41,97.16 472.53,95.08 469.67,93.07 466.82,91.13 463.98,89.25 461.16,87.44 458.34,85.69 455.55,84.01 452.76,82.39 449.99,80.84 447.23,79.35 444.49,77.92 441.75,76.56 439.04,75.26 436.33,74.02 433.64,72.84 430.97,71.73 428.31,70.67 425.66,69.68 423.03,68.74 420.41,67.87 417.81,67.06 415.22,66.30 412.64,65.60 410.08,64.96 407.54,64.38 405.01,63.86 402.49,63.39 399.99,62.98 397.51,62.62 395.04,62.32 392.59,62.07 390.15,61.88" stroke="#303030" stroke-width="0.8" fill="none"/>
<polyline points="358.20,119.27 360.47,116.37 362.72,113.54 364.95,110.80 367.17,108.13 369.38,105.54 371.57,103.02 373.75,100.58 375.91,98.22 378.06,95.93 380.19,93.72 382.32,91.58 384.42,89.51 386.51,87.51 388.59,85.59 390.65,83.74 392.70,81.96 394.73,80.24 396.75,78.60 398.76,77.02 400.75,75.52 402.72,74.07 404.69,72.70 406.63,71.39 408.57,70.15 410.48,68.97 412.39,67.85 414.28,66.80 416.15,65.81 418.01,64.88 419.86,64.02 421.69,63.21 423.51,62.46 425.32,61.78 427.11,61.15 428.88,60.58 430.65,60.07 432.39,59.61 434.13,59.21 435.85,58.86 437.55,58.57" stroke="#303030" stroke-width="0.8" fill="none"/>
<polyline points="502.97,113.21 500.02,110.63 497.08,108.11 494.16,105.66 491.24,103.28 488.34,100.97 485.45,98.72 482.57,96.54 479.70,94.43 476.84,92.38 474.00,90.40 471.17,88.48 468.35,86.63 465.54,84.84 462.75,83.12 459.97,81.46 457.20,79.86 454.44,78.33 451.70,76.86 448.97,75.46 446.26,74.11 443.56,72.83 440.87,71.61 438.19,70.45 435.53,69.35 432.89,68.32 430.25,67.34 427.63,66.42 425.03,65.56 422.44,64.76 419.86,64.02 417.30,63.33 414.75,62.71 412.22,62.14 409.70,61.62 407.20,61.17 404.71,60.76 402.23,60.42 399.77,60.13 397.33,59.89 394.90,59.71" stroke="#303030" stroke-width="0.8" fill="none"/>
<polyline points="351.55,117.05 353.82,114.18 356.07,111.38 358.31,108.66 360.54,106.02 362.76,103.46 364.95,100.97 367.14,98.56 369.31,96.22 371.47,93.96 373.61,91.77 375.74,89.65 377.85,87.60 379.95,85.63 382.04,83.73 384.11,81.90 386.17,80.13 388.21,78.44 390.24,76.81 392.26,75.26 394.26,73.77 396.24,72.34 398.22,70.98 400.17,69.69 402.12,68.46 404.05,67.30 405.96,66.20 407.86,65.16 409.75,64.18 411.62,63.27 413.48,62.41 415.33,61.62 417.16,60.88 418.98,60.21 420.78,59.59 422.57,59.03 424.34,58.53 426.10,58.08 427.85,57.69 429.59,57.35 431.31,57.07" stroke="#303030" stroke-width="0.8" fill="none"/>
<polyline points="506.99,110.64 504.07,108.09 501.15,105.61 498.25,103.19 495.36,100.84 492.47,98.56 489.60,96.34 486.74,94.19 483.90,92.10 481.06,90.08 478.24,88.12 475.42,86.23 472.62,84.40 469.83,82.64 467.06,80.94 464.30,79.30 461.55,77.73 458.81,76.22 456.08,74.77 453.37,73.38 450.67,72.06 447.98,70.79 445.31,69.59 442.65,68.45 440.01,67.37 437.37,66.34 434.75,65.38 432.15,64.48 429.56,63.63 426.98,62.84 424.42,62.11 421.87,61.44 419.33,60.83 416.81,60.27 414.30,59.76 411.81,59.32 409.33,58.92 406.87,58.59 404.42,58.30 401.99,58.07 399.57,57.90" stroke="#303030" stroke-width="0.8" fill="none"/>
<polyline points="345.01,115.23 347.28,112.38 349.55,109.61 351.79,106.92 354.03,104.31 356.25,101.77 358.45,99.31 360.64,96.92 362.82,94.61 364.98,92.37 367.13,90.20 369.27,88.10 371.39,86.08 373.50,84.13 375.60,82.24 377.68,80.43 379.74,78.69 381.79,77.01 383.83,75.40 385.86,73.86 387.87,72.39 389.86,70.98 391.84,69.64 393.81,68.36 395.77,67.14 397.71,65.99 399.63,64.90 401.54,63.88 403.44,62.91 405.33,62.01 407.20,61.17 409.05,60.38 410.90,59.66 412.72,58.99 414.54,58.38 416.34,57.83 418.13,57.33 419.90,56.89 421.66,56.51 423.41,56.18 425.14,55.90" stroke="#303030" stroke-width="0.8" fill="none"/>
<polyline points="510.92,108.48 508.02,105.96 505.13,103.51 502.24,101.12 499.37,98.80 496.51,96.54 493.66,94.35 490.82,92.23 488.00,90.17 485.18,88.17 482.38,86.24 479.58,84.37 476.80,82.57 474.03,80.83 471.28,79.15 468.53,77.53 465.80,75.98 463.08,74.49 460.37,73.06 457.67,71.69 454.99,70.38 452.32,69.14 449.66,67.95 447.02,66.82 444.39,65.75 441.77,64.75 439.17,63.80 436.58,62.91 434.00,62.07 431.43,61.30 428.88,60.58 426.35,59.92 423.82,59.31 421.32,58.76 418.82,58.27 416.34,57.83 413.87,57.44 411.42,57.11 408.98,56.84 406.56,56.61 404.15,56.44" stroke="#303030" stroke-width="0.8" fill="none"/>
<polyline points="338.59,113.79 340.87,110.97 343.13,108.23 345.38,105.57 347.62,102.98 349.85,100.47 352.06,98.03 354.26,95.66 356.44,93.37 358.61,91.15 360.77,89.01 362.91,86.93 365.04,84.93 367.15,82.99 369.26,81.13 371.34,79.33 373.42,77.60 375.48,75.95 377.52,74.35 379.56,72.83 381.57,71.37 383.58,69.97 385.57,68.65 387.55,67.38 389.51,66.18 391.46,65.04 393.40,63.96 395.32,62.95 397.23,61.99 399.12,61.10 401.00,60.26 402.87,59.49 404.72,58.77 406.56,58.11 408.39,57.51 410.20,56.97 412.00,56.48 413.78,56.05 415.55,55.67 417.31,55.34 419.06,55.07" stroke="#303030" stroke-width="0.8" fill="none"/>
<polyline points="514.75,106.70 511.87,104.21 509.00,101.79 506.14,99.43 503.29,97.14 500.46,94.91 497.63,92.75 494.81,90.65 492.00,88.61 489.21,86.64 486.42,84.73 483.65,82.89 480.89,81.11 478.14,79.39 475.40,77.73 472.67,76.13 469.96,74.60 467.25,73.13 464.56,71.72 461.88,70.37 459.22,69.07 456.57,67.84 453.92,66.67 451.30,65.56 448.68,64.51 446.08,63.51 443.49,62.58 440.91,61.70 438.35,60.87 435.80,60.11 433.26,59.40 430.74,58.75 428.23,58.15 425.73,57.61 423.25,57.13 420.78,56.69 418.33,56.32 415.89,55.99 413.46,55.72 411.05,55.50 408.65,55.34" stroke="#303030" stroke-width="0.8" fill="none"/>
<polyline points="332.29,112.74 334.57,109.95 336.84,107.23 339.09,104.59 341.33,102.03 343.56,99.54 345.78,97.12 347.98,94.78 350.17,92.51 352.35,90.31 354.51,88.18 356.66,86.12 358.79,84.14 360.91,82.22 363.02,80.37 365.12,78.59 367.20,76.88 369.26,75.24 371.32,73.66 373.36,72.15 375.38,70.70 377.40,69.32 379.40,68.01 381.38,66.75 383.35,65.56 385.31,64.43 387.26,63.37 389.19,62.36 391.10,61.42 393.01,60.53 394.90,59.71 396.78,58.94 398.64,58.23 400.49,57.58 402.32,56.98 404.15,56.44 405.96,55.96 407.75,55.53 409.54,55.16 411.31,54.84 413.06,54.57" stroke="#303030" stroke-width="0.8" fill="none"/>
<polyline points="518.49,105.31 515.63,102.85 512.79,100.45 509.95,98.12 507.12,95.86 504.30,93.66 501.50,91.52 498.70,89.44 495.91,87.43 493.14,85.48 490.37,83.60 487.62,81.78 484.88,80.01 482.15,78.31 479.43,76.68 476.72,75.10 474.02,73.58 471.34,72.13 468.67,70.74 466.01,69.40 463.36,68.13 460.72,66.91 458.10,65.75 455.48,64.65 452.88,63.61 450.30,62.63 447.72,61.71 445.16,60.84 442.61,60.03 440.08,59.27 437.55,58.57 435.05,57.93 432.55,57.34 430.07,56.81 427.60,56.33 425.14,55.90 422.70,55.53 420.27,55.21 417.85,54.95 415.45,54.73 413.06,54.57" stroke="#303030" stroke-width="0.8" fill="none"/>
<circle cx="422.30" cy="69.20" r="2.0" fill="#000"/>
<circle cx="433.80" cy="110.50" r="2.0" fill="#000"/>
<text x="297.20" y="11.60" font-size="9.5" text-anchor="start" fill="#111" font-weight="bold" textLength="13.80" lengthAdjust="spacingAndGlyphs" >(B)</text>
<text x="339.80" y="28.40" font-size="10" text-anchor="start" fill="#111" textLength="213.60" lengthAdjust="spacingAndGlyphs" >Fp=12.55+0.088*x+0.088*y-0.0004*x<tspan dy="-4" font-size="6">2</tspan><tspan dy="4">-0.0004*+y<tspan dy="-4" font-size="6">2</tspan><tspan dy="4"></tspan></tspan></text>
<text x="430.20" y="38.50" font-size="10" text-anchor="start" fill="#111" >R<tspan dy="-4" font-size="6">2</tspan><tspan dy="4">=0.99</tspan></text>
<text x="310.40" y="160.20" font-size="10" text-anchor="start" fill="#111" textLength="93.00" lengthAdjust="spacingAndGlyphs" transform="rotate(-92.60 310.40 160.20)" >Fruit production (kg/plant)</text>
<text x="330.93" y="175.63" font-size="10" text-anchor="end" fill="#111" >16</text>
<text x="330.29" y="161.50" font-size="10" text-anchor="end" fill="#111" >17</text>
<text x="329.64" y="147.17" font-size="10" text-anchor="end" fill="#111" >18</text>
<text x="328.98" y="132.65" font-size="10" text-anchor="end" fill="#111" >19</text>
<text x="328.31" y="117.93" font-size="10" text-anchor="end" fill="#111" >20</text>
<text x="327.63" y="103.00" font-size="10" text-anchor="end" fill="#111" >21</text>
<text x="326.94" y="87.87" font-size="10" text-anchor="end" fill="#111" >22</text>
<text x="326.24" y="72.51" font-size="10" text-anchor="end" fill="#111" >23</text>
<text x="325.54" y="56.94" font-size="10" text-anchor="end" fill="#111" >24</text>
<polyline points="346.33,363.56 428.62,327.66 522.42,356.91" stroke="#dcdcdc" stroke-width="0.8" fill="none"/>
<polyline points="345.22,349.62 428.57,315.16 523.54,343.20" stroke="#dcdcdc" stroke-width="0.8" fill="none"/>
<polyline points="344.08,335.32 428.52,302.38 524.69,329.15" stroke="#dcdcdc" stroke-width="0.8" fill="none"/>
<polyline points="342.91,320.65 428.47,289.31 525.87,314.73" stroke="#dcdcdc" stroke-width="0.8" fill="none"/>
<polyline points="341.71,305.58 428.41,275.94 527.08,299.93" stroke="#dcdcdc" stroke-width="0.8" fill="none"/>
<polyline points="340.47,290.10 428.36,262.25 528.32,284.75" stroke="#dcdcdc" stroke-width="0.8" fill="none"/>
<polyline points="377.05,363.57 371.95,264.66" stroke="#dcdcdc" stroke-width="0.8" fill="none"/>
<polyline points="488.01,359.36 492.93,261.59" stroke="#dcdcdc" stroke-width="0.8" fill="none"/>
<polyline points="377.05,363.57 472.59,400.43" stroke="#dcdcdc" stroke-width="0.8" fill="none"/>
<polyline points="408.92,403.18 488.01,359.36" stroke="#dcdcdc" stroke-width="0.8" fill="none"/>
<polyline points="404.02,351.20 401.50,256.05" stroke="#dcdcdc" stroke-width="0.8" fill="none"/>
<polyline points="457.21,349.26 459.29,254.64" stroke="#dcdcdc" stroke-width="0.8" fill="none"/>
<polyline points="404.02,351.20 498.20,384.60" stroke="#dcdcdc" stroke-width="0.8" fill="none"/>
<polyline points="376.82,389.60 457.21,349.26" stroke="#dcdcdc" stroke-width="0.8" fill="none"/>
<polyline points="347.41,377.15 339.21,274.20 428.30,248.25 529.59,269.16 521.33,370.29" stroke="#858585" stroke-width="1" fill="none"/>
<polyline points="347.41,377.15 428.67,339.89 521.33,370.29" stroke="#8a8a8a" stroke-width="0.9" fill="none"/>
<polyline points="428.67,339.89 428.30,248.25" stroke="#9a9a9a" stroke-width="0.9" fill="none"/>
<polyline points="347.41,377.15 444.09,418.06 521.33,370.29" stroke="#6a6a6a" stroke-width="1" fill="none"/>
<polyline points="472.59,400.43 476.41,401.91" stroke="#666" stroke-width="0.9" fill="none"/>
<polyline points="408.92,403.18 405.68,404.97" stroke="#666" stroke-width="0.9" fill="none"/>
<polyline points="498.20,384.60 501.94,385.92" stroke="#666" stroke-width="0.9" fill="none"/>
<polyline points="376.82,389.60 373.55,391.24" stroke="#666" stroke-width="0.9" fill="none"/>
<polyline points="346.33,363.56 344.13,363.56" stroke="#666" stroke-width="0.9" fill="none"/>
<polyline points="345.22,349.62 343.02,349.62" stroke="#666" stroke-width="0.9" fill="none"/>
<polyline points="344.08,335.32 341.88,335.32" stroke="#666" stroke-width="0.9" fill="none"/>
<polyline points="342.91,320.65 340.71,320.65" stroke="#666" stroke-width="0.9" fill="none"/>
<polyline points="341.71,305.58 339.51,305.58" stroke="#666" stroke-width="0.9" fill="none"/>
<polyline points="340.47,290.10 338.27,290.10" stroke="#666" stroke-width="0.9" fill="none"/>
<polyline points="444.24,404.06 446.56,399.71 448.87,395.49 451.17,391.40 453.46,387.45 455.73,383.64 458.00,379.96 460.26,376.41 462.50,373.01 464.73,369.74 466.94,366.61 469.14,363.61 471.33,360.76 473.50,358.04 475.65,355.46 477.79,353.01 479.90,350.70 482.00,348.53 484.09,346.49 486.15,344.59 488.19,342.82 490.21,341.19 492.21,339.68 494.19,338.31 496.15,337.07 498.09,335.96 500.00,334.97 501.89,334.12 503.76,333.38 505.61,332.78 507.43,332.29 509.23,331.93 511.00,331.69 512.75,331.56 514.48,331.56 516.18,331.66 517.85,331.89 519.50,332.22 521.13,332.66 522.73,333.21 524.31,333.87" stroke="#303030" stroke-width="0.8" fill="none"/>
<polyline points="444.24,404.06 441.47,399.93 438.71,395.92 435.95,392.04 433.19,388.29 430.45,384.67 427.70,381.18 424.97,377.82 422.25,374.60 419.54,371.51 416.83,368.55 414.14,365.72 411.46,363.03 408.80,360.48 406.15,358.05 403.52,355.76 400.90,353.61 398.29,351.58 395.71,349.70 393.14,347.94 390.59,346.31 388.06,344.82 385.55,343.46 383.07,342.23 380.60,341.12 378.15,340.15 375.73,339.30 373.33,338.58 370.96,337.99 368.61,337.52 366.28,337.17 363.98,336.94 361.70,336.83 359.45,336.85 357.23,336.98 355.03,337.22 352.86,337.58 350.72,338.06 348.61,338.64 346.52,339.33 344.46,340.13" stroke="#303030" stroke-width="0.8" fill="none"/>
<polyline points="437.33,393.96 439.65,389.63 441.96,385.44 444.27,381.38 446.57,377.45 448.85,373.66 451.13,370.01 453.39,366.49 455.65,363.12 457.89,359.88 460.11,356.78 462.33,353.82 464.53,350.99 466.71,348.30 468.88,345.75 471.03,343.34 473.16,341.07 475.28,338.93 477.38,336.93 479.45,335.06 481.52,333.33 483.56,331.73 485.58,330.26 487.58,328.93 489.56,327.73 491.52,326.65 493.45,325.71 495.37,324.89 497.26,324.20 499.13,323.63 500.98,323.19 502.80,322.87 504.60,322.67 506.37,322.58 508.13,322.62 509.85,322.77 511.56,323.03 513.24,323.41 514.89,323.90 516.52,324.49 518.12,325.19" stroke="#303030" stroke-width="0.8" fill="none"/>
<polyline points="450.02,393.43 447.26,389.32 444.50,385.33 441.74,381.48 438.99,377.75 436.24,374.16 433.51,370.70 430.78,367.37 428.05,364.17 425.34,361.11 422.64,358.18 419.95,355.39 417.27,352.73 414.60,350.20 411.95,347.81 409.31,345.55 406.68,343.43 404.08,341.44 401.48,339.58 398.91,337.86 396.36,336.27 393.82,334.81 391.30,333.49 388.80,332.29 386.33,331.22 383.87,330.29 381.44,329.48 379.03,328.79 376.64,328.23 374.28,327.80 371.94,327.49 369.62,327.30 367.33,327.24 365.07,327.29 362.83,327.46 360.61,327.74 358.43,328.14 356.27,328.65 354.14,329.28 352.03,330.01 349.95,330.85" stroke="#303030" stroke-width="0.8" fill="none"/>
<polyline points="430.45,384.67 432.77,380.36 435.09,376.19 437.40,372.16 439.70,368.26 441.99,364.50 444.28,360.88 446.55,357.39 448.81,354.04 451.06,350.83 453.30,347.76 455.52,344.83 457.73,342.04 459.93,339.38 462.11,336.87 464.27,334.49 466.42,332.25 468.55,330.14 470.67,328.17 472.76,326.34 474.84,324.64 476.90,323.08 478.94,321.65 480.96,320.35 482.96,319.18 484.94,318.15 486.90,317.24 488.83,316.46 490.75,315.80 492.64,315.27 494.51,314.87 496.35,314.58 498.18,314.42 499.98,314.37 501.76,314.45 503.51,314.64 505.24,314.94 506.95,315.35 508.63,315.88 510.28,316.51 511.92,317.25" stroke="#303030" stroke-width="0.8" fill="none"/>
<polyline points="455.73,383.64 452.98,379.55 450.23,375.59 447.48,371.76 444.73,368.07 441.99,364.50 439.26,361.07 436.53,357.77 433.81,354.60 431.10,351.57 428.40,348.67 425.71,345.90 423.03,343.27 420.37,340.78 417.71,338.42 415.07,336.19 412.44,334.10 409.83,332.14 407.24,330.32 404.66,328.63 402.10,327.07 399.56,325.65 397.03,324.35 394.53,323.19 392.04,322.16 389.58,321.26 387.14,320.48 384.72,319.83 382.32,319.31 379.94,318.91 377.59,318.64 375.26,318.48 372.96,318.45 370.68,318.54 368.43,318.74 366.20,319.06 364.00,319.50 361.82,320.05 359.67,320.71 357.55,321.48 355.46,322.36" stroke="#303030" stroke-width="0.8" fill="none"/>
<polyline points="423.61,376.19 425.94,371.92 428.26,367.77 430.57,363.77 432.88,359.90 435.17,356.17 437.46,352.57 439.74,349.12 442.01,345.80 444.27,342.62 446.51,339.58 448.74,336.68 450.96,333.92 453.17,331.29 455.36,328.81 457.54,326.46 459.70,324.25 461.85,322.18 463.97,320.24 466.09,318.44 468.18,316.77 470.25,315.24 472.31,313.85 474.35,312.58 476.37,311.45 478.36,310.44 480.34,309.57 482.30,308.82 484.23,308.20 486.15,307.70 488.04,307.33 489.91,307.08 491.75,306.95 493.58,306.94 495.38,307.05 497.16,307.27 498.91,307.61 500.64,308.06 502.35,308.62 504.04,309.29 505.69,310.06" stroke="#303030" stroke-width="0.8" fill="none"/>
<polyline points="461.38,374.69 458.64,370.63 455.89,366.71 453.15,362.91 450.41,359.24 447.68,355.70 444.96,352.30 442.23,349.02 439.52,345.89 436.81,342.88 434.12,340.01 431.43,337.28 428.75,334.68 426.09,332.22 423.43,329.89 420.79,327.69 418.16,325.63 415.55,323.71 412.96,321.91 410.37,320.25 407.81,318.73 405.26,317.34 402.73,316.07 400.22,314.94 397.73,313.94 395.26,313.07 392.81,312.33 390.38,311.71 387.98,311.22 385.59,310.85 383.23,310.61 380.89,310.49 378.58,310.49 376.29,310.61 374.02,310.84 371.78,311.20 369.56,311.66 367.37,312.24 365.21,312.94 363.07,313.74 360.96,314.65" stroke="#303030" stroke-width="0.8" fill="none"/>
<polyline points="416.83,368.55 419.16,364.30 421.48,360.19 423.79,356.21 426.10,352.37 428.40,348.67 430.69,345.10 432.98,341.68 435.25,338.39 437.52,335.24 439.77,332.23 442.01,329.36 444.24,326.63 446.45,324.03 448.65,321.58 450.84,319.26 453.01,317.08 455.17,315.04 457.31,313.14 459.44,311.37 461.54,309.73 463.63,308.23 465.71,306.86 467.76,305.63 469.79,304.53 471.81,303.55 473.80,302.71 475.78,301.99 477.73,301.40 479.67,300.94 481.58,300.60 483.47,300.38 485.34,300.28 487.19,300.30 489.01,300.44 490.81,300.69 492.59,301.06 494.34,301.54 496.08,302.13 497.79,302.83 499.47,303.63" stroke="#303030" stroke-width="0.8" fill="none"/>
<polyline points="466.94,366.61 464.21,362.58 461.48,358.68 458.75,354.91 456.02,351.27 453.30,347.76 450.58,344.39 447.87,341.15 445.16,338.04 442.46,335.07 439.77,332.23 437.08,329.53 434.41,326.96 431.75,324.52 429.10,322.22 426.46,320.06 423.83,318.03 421.22,316.13 418.63,314.37 416.04,312.74 413.48,311.24 410.93,309.88 408.40,308.65 405.88,307.54 403.39,306.57 400.91,305.73 398.46,305.02 396.02,304.43 393.61,303.96 391.22,303.63 388.85,303.41 386.50,303.32 384.17,303.35 381.87,303.49 379.60,303.76 377.34,304.14 375.12,304.64 372.91,305.24 370.74,305.96 368.59,306.79 366.46,307.73" stroke="#303030" stroke-width="0.8" fill="none"/>
<polyline points="410.13,361.74 412.45,357.52 414.77,353.44 417.09,349.49 419.40,345.68 421.70,342.01 423.99,338.47 426.28,335.08 428.55,331.82 430.82,328.70 433.08,325.72 435.33,322.88 437.56,320.18 439.78,317.62 441.99,315.19 444.19,312.90 446.37,310.75 448.54,308.74 450.69,306.86 452.83,305.12 454.95,303.52 457.05,302.05 459.14,300.71 461.20,299.50 463.25,298.43 465.28,297.48 467.30,296.67 469.29,295.98 471.26,295.41 473.21,294.98 475.14,294.66 477.05,294.47 478.94,294.40 480.81,294.44 482.66,294.61 484.48,294.89 486.28,295.28 488.06,295.79 489.81,296.40 491.55,297.13 493.25,297.96" stroke="#303030" stroke-width="0.8" fill="none"/>
<polyline points="472.42,359.38 469.70,355.38 466.98,351.52 464.26,347.78 461.54,344.17 458.83,340.69 456.12,337.35 453.42,334.14 450.72,331.06 448.03,328.12 445.35,325.31 442.67,322.64 440.00,320.10 437.35,317.69 434.70,315.42 432.07,313.29 429.44,311.29 426.83,309.42 424.24,307.69 421.66,306.08 419.09,304.62 416.54,303.28 414.01,302.07 411.50,301.00 409.00,300.06 406.52,299.24 404.06,298.55 401.62,297.99 399.20,297.55 396.80,297.24 394.43,297.05 392.07,296.98 389.74,297.03 387.43,297.21 385.14,297.49 382.88,297.90 380.64,298.42 378.43,299.05 376.24,299.79 374.08,300.65 371.94,301.61" stroke="#303030" stroke-width="0.8" fill="none"/>
<polyline points="403.52,355.76 405.83,351.58 408.15,347.53 410.46,343.61 412.77,339.83 415.07,336.19 417.36,332.69 419.65,329.32 421.93,326.10 424.20,323.01 426.46,320.06 428.71,317.25 430.95,314.57 433.18,312.04 435.39,309.64 437.60,307.38 439.79,305.26 441.96,303.28 444.12,301.43 446.27,299.71 448.40,298.13 450.51,296.69 452.61,295.38 454.69,294.20 456.76,293.15 458.80,292.23 460.83,291.44 462.84,290.77 464.82,290.23 466.79,289.82 468.74,289.53 470.67,289.36 472.58,289.31 474.46,289.38 476.33,289.57 478.17,289.87 480.00,290.28 481.79,290.81 483.57,291.45 485.33,292.19 487.06,293.04" stroke="#303030" stroke-width="0.8" fill="none"/>
<polyline points="477.79,353.01 475.08,349.05 472.38,345.21 469.68,341.51 466.97,337.93 464.27,334.49 461.58,331.18 458.88,328.00 456.20,324.95 453.52,322.04 450.84,319.26 448.17,316.62 445.51,314.11 442.86,311.73 440.23,309.49 437.60,307.38 434.98,305.41 432.37,303.57 429.78,301.86 427.21,300.29 424.64,298.85 422.09,297.54 419.56,296.36 417.05,295.31 414.55,294.38 412.07,293.59 409.61,292.93 407.17,292.39 404.74,291.97 402.34,291.68 399.96,291.52 397.60,291.47 395.26,291.54 392.95,291.74 390.65,292.05 388.38,292.47 386.13,293.01 383.91,293.66 381.71,294.42 379.54,295.29 377.39,296.27" stroke="#303030" stroke-width="0.8" fill="none"/>
<polyline points="397.00,350.62 399.31,346.47 401.62,342.45 403.93,338.57 406.24,334.82 408.53,331.21 410.83,327.74 413.11,324.41 415.39,321.21 417.66,318.15 419.92,315.23 422.17,312.45 424.42,309.81 426.65,307.30 428.87,304.93 431.08,302.70 433.27,300.60 435.46,298.65 437.62,296.82 439.78,295.13 441.92,293.58 444.04,292.16 446.15,290.87 448.24,289.71 450.32,288.69 452.38,287.79 454.42,287.02 456.44,286.38 458.44,285.86 460.42,285.47 462.39,285.19 464.33,285.05 466.26,285.02 468.16,285.10 470.04,285.31 471.91,285.63 473.75,286.06 475.57,286.61 477.37,287.26 479.14,288.02 480.90,288.89" stroke="#303030" stroke-width="0.8" fill="none"/>
<polyline points="483.05,347.49 480.36,343.56 477.67,339.76 474.98,336.09 472.30,332.55 469.61,329.14 466.93,325.86 464.25,322.71 461.58,319.70 458.91,316.82 456.24,314.07 453.59,311.46 450.94,308.98 448.30,306.63 445.67,304.41 443.04,302.33 440.43,300.39 437.84,298.57 435.25,296.89 432.68,295.34 430.12,293.93 427.57,292.64 425.05,291.48 422.53,290.45 420.04,289.56 417.56,288.78 415.10,288.14 412.65,287.62 410.23,287.23 407.82,286.96 405.44,286.81 403.08,286.78 400.73,286.87 398.41,287.08 396.11,287.41 393.84,287.85 391.58,288.40 389.35,289.07 387.14,289.84 384.96,290.73 382.80,291.72" stroke="#303030" stroke-width="0.8" fill="none"/>
<polyline points="390.59,346.31 392.90,342.20 395.20,338.21 397.51,334.36 399.80,330.65 402.10,327.07 404.39,323.63 406.67,320.33 408.95,317.16 411.22,314.13 413.48,311.24 415.73,308.49 417.97,305.87 420.21,303.39 422.43,301.05 424.64,298.85 426.84,296.78 429.03,294.84 431.20,293.04 433.37,291.38 435.51,289.85 437.64,288.45 439.76,287.18 441.86,286.04 443.95,285.04 446.02,284.16 448.07,283.41 450.10,282.78 452.12,282.29 454.11,281.91 456.09,281.66 458.05,281.52 459.99,281.51 461.91,281.61 463.81,281.83 465.69,282.16 467.55,282.61 469.39,283.17 471.20,283.84 473.00,284.61 474.77,285.49" stroke="#303030" stroke-width="0.8" fill="none"/>
<polyline points="488.19,342.82 485.52,338.93 482.85,335.16 480.18,331.53 477.51,328.02 474.84,324.64 472.17,321.40 469.51,318.28 466.85,315.30 464.19,312.45 461.54,309.73 458.90,307.15 456.26,304.69 453.63,302.38 451.01,300.19 448.40,298.13 445.80,296.21 443.21,294.42 440.63,292.77 438.06,291.24 435.51,289.85 432.97,288.58 430.45,287.45 427.94,286.44 425.45,285.56 422.97,284.81 420.51,284.18 418.07,283.68 415.64,283.30 413.24,283.05 410.85,282.91 408.49,282.90 406.14,283.01 403.82,283.23 401.52,283.57 399.23,284.02 396.97,284.59 394.74,285.26 392.52,286.05 390.33,286.95 388.17,287.95" stroke="#303030" stroke-width="0.8" fill="none"/>
<polyline points="384.31,342.83 386.61,338.74 388.90,334.80 391.20,330.98 393.49,327.30 395.78,323.76 398.06,320.35 400.34,317.08 402.61,313.94 404.88,310.94 407.14,308.08 409.39,305.35 411.63,302.76 413.87,300.31 416.09,298.00 418.30,295.81 420.51,293.77 422.70,291.86 424.87,290.08 427.04,288.44 429.19,286.93 431.33,285.55 433.45,284.30 435.56,283.18 437.66,282.19 439.73,281.33 441.79,280.60 443.84,279.99 445.86,279.50 447.87,279.14 449.86,278.90 451.84,278.78 453.79,278.78 455.72,278.89 457.64,279.12 459.53,279.47 461.41,279.92 463.26,280.49 465.10,281.16 466.91,281.95 468.70,282.83" stroke="#303030" stroke-width="0.8" fill="none"/>
<polyline points="493.20,338.98 490.56,335.12 487.91,331.40 485.25,327.80 482.60,324.32 479.95,320.98 477.30,317.77 474.65,314.69 472.01,311.74 469.37,308.92 466.73,306.23 464.10,303.67 461.48,301.25 458.86,298.96 456.26,296.80 453.66,294.77 451.07,292.87 448.48,291.11 445.92,289.47 443.36,287.97 440.81,286.60 438.28,285.35 435.76,284.23 433.26,283.25 430.77,282.38 428.30,281.65 425.84,281.04 423.40,280.55 420.98,280.19 418.58,279.95 416.19,279.83 413.83,279.82 411.48,279.94 409.16,280.17 406.85,280.52 404.57,280.98 402.30,281.56 400.06,282.24 397.85,283.04 395.65,283.94 393.48,284.94" stroke="#303030" stroke-width="0.8" fill="none"/>
<polyline points="378.15,340.15 380.44,336.10 382.73,332.19 385.02,328.41 387.30,324.77 389.58,321.26 391.86,317.88 394.13,314.64 396.40,311.53 398.66,308.56 400.91,305.73 403.16,303.03 405.40,300.47 407.63,298.04 409.86,295.75 412.07,293.59 414.27,291.57 416.47,289.68 418.65,287.92 420.81,286.30 422.97,284.81 425.11,283.45 427.24,282.22 429.35,281.11 431.45,280.14 433.54,279.29 435.61,278.57 437.66,277.98 439.70,277.50 441.71,277.15 443.72,276.92 445.70,276.81 447.67,276.82 449.61,276.94 451.54,277.18 453.45,277.53 455.34,277.99 457.21,278.56 459.06,279.24 460.89,280.02 462.70,280.91" stroke="#303030" stroke-width="0.8" fill="none"/>
<polyline points="498.09,335.96 495.46,332.14 492.83,328.45 490.20,324.89 487.57,321.45 484.94,318.15 482.31,314.97 479.68,311.92 477.05,309.00 474.43,306.21 471.81,303.55 469.19,301.03 466.59,298.63 463.98,296.37 461.39,294.23 458.80,292.23 456.22,290.35 453.66,288.61 451.10,287.00 448.55,285.51 446.02,284.16 443.49,282.93 440.98,281.83 438.49,280.86 436.01,280.01 433.54,279.29 431.09,278.70 428.65,278.22 426.24,277.87 423.84,277.64 421.45,277.53 419.09,277.53 416.74,277.66 414.42,277.90 412.11,278.25 409.83,278.72 407.56,279.30 405.32,279.98 403.10,280.78 400.90,281.68 398.72,282.69" stroke="#303030" stroke-width="0.8" fill="none"/>
<polyline points="372.14,338.27 374.42,334.26 376.69,330.39 378.97,326.64 381.24,323.03 383.51,319.55 385.78,316.21 388.05,313.00 390.31,309.93 392.56,306.99 394.81,304.18 397.06,301.51 399.29,298.97 401.52,296.57 403.74,294.30 405.95,292.17 408.15,290.16 410.35,288.29 412.53,286.56 414.70,284.95 416.85,283.48 419.00,282.13 421.13,280.91 423.25,279.83 425.35,278.87 427.44,278.03 429.52,277.32 431.58,276.73 433.62,276.27 435.65,275.93 437.66,275.70 439.65,275.60 441.63,275.61 443.58,275.74 445.52,275.98 447.44,276.33 449.35,276.79 451.23,277.36 453.09,278.04 454.94,278.83 456.76,279.72" stroke="#303030" stroke-width="0.8" fill="none"/>
<polyline points="502.83,333.74 500.23,329.96 497.62,326.31 495.01,322.78 492.40,319.38 489.79,316.11 487.18,312.97 484.57,309.95 481.96,307.07 479.36,304.31 476.76,301.68 474.16,299.18 471.57,296.82 468.98,294.58 466.40,292.47 463.83,290.49 461.27,288.64 458.71,286.91 456.17,285.32 453.63,283.86 451.11,282.52 448.60,281.31 446.10,280.23 443.61,279.27 441.14,278.43 438.68,277.72 436.24,277.14 433.81,276.67 431.40,276.33 429.00,276.11 426.62,276.00 424.26,276.01 421.92,276.14 419.60,276.38 417.29,276.74 415.01,277.21 412.74,277.79 410.50,278.48 408.28,279.27 406.07,280.17 403.89,281.18" stroke="#303030" stroke-width="0.8" fill="none"/>
<polyline points="366.28,337.17 368.54,333.20 370.81,329.36 373.07,325.65 375.33,322.08 377.59,318.64 379.85,315.32 382.10,312.15 384.36,309.10 386.60,306.19 388.85,303.41 391.08,300.77 393.31,298.26 395.54,295.88 397.75,293.63 399.96,291.52 402.16,289.53 404.35,287.68 406.53,285.96 408.70,284.37 410.85,282.91 413.00,281.58 415.13,280.38 417.25,279.30 419.36,278.35 421.45,277.53 423.53,276.82 425.60,276.24 427.65,275.79 429.68,275.45 431.70,275.23 433.70,275.13 435.68,275.14 437.65,275.27 439.60,275.51 441.53,275.86 443.44,276.32 445.34,276.89 447.21,277.57 449.07,278.35 450.91,279.23" stroke="#303030" stroke-width="0.8" fill="none"/>
<polyline points="507.43,332.29 504.85,328.56 502.27,324.95 499.68,321.46 497.10,318.10 494.51,314.87 491.92,311.76 489.33,308.78 486.75,305.92 484.16,303.20 481.58,300.60 479.00,298.13 476.43,295.78 473.86,293.57 471.30,291.49 468.74,289.53 466.19,287.70 463.65,286.00 461.12,284.42 458.60,282.98 456.09,281.66 453.59,280.46 451.10,279.39 448.63,278.44 446.17,277.62 443.72,276.92 441.28,276.34 438.86,275.89 436.46,275.55 434.07,275.33 431.70,275.23 429.34,275.24 427.00,275.37 424.68,275.62 422.38,275.97 420.10,276.44 417.84,277.02 415.59,277.70 413.37,278.49 411.17,279.39 408.99,280.39" stroke="#303030" stroke-width="0.8" fill="none"/>
<polyline points="360.58,336.83 362.82,332.90 365.07,329.10 367.32,325.43 369.57,321.89 371.82,318.48 374.06,315.20 376.31,312.05 378.55,309.04 380.79,306.16 383.02,303.41 385.25,300.79 387.47,298.30 389.69,295.94 391.90,293.72 394.10,291.62 396.29,289.66 398.48,287.83 400.66,286.13 402.82,284.55 404.98,283.10 407.12,281.78 409.26,280.59 411.38,279.52 413.48,278.58 415.58,277.76 417.66,277.07 419.73,276.49 421.78,276.04 423.82,275.70 425.84,275.48 427.85,275.38 429.84,275.39 431.81,275.52 433.77,275.75 435.71,276.10 437.63,276.56 439.54,277.12 441.42,277.79 443.29,278.56 445.14,279.44" stroke="#303030" stroke-width="0.8" fill="none"/>
<polyline points="511.88,331.61 509.33,327.92 506.77,324.35 504.21,320.90 501.65,317.58 499.08,314.38 496.52,311.31 493.95,308.36 491.39,305.54 488.83,302.84 486.26,300.27 483.71,297.83 481.15,295.52 478.60,293.33 476.06,291.27 473.52,289.33 470.99,287.52 468.47,285.84 465.96,284.28 463.45,282.85 460.95,281.54 458.47,280.36 455.99,279.30 453.53,278.37 451.08,277.55 448.64,276.86 446.22,276.29 443.81,275.84 441.41,275.51 439.03,275.29 436.67,275.19 434.32,275.20 431.99,275.33 429.67,275.57 427.38,275.93 425.10,276.39 422.84,276.96 420.60,277.64 418.38,278.42 416.18,279.31 414.00,280.30" stroke="#303030" stroke-width="0.8" fill="none"/>
<polyline points="355.03,337.22 357.26,333.33 359.50,329.57 361.73,325.94 363.97,322.44 366.20,319.06 368.43,315.82 370.67,312.70 372.89,309.72 375.12,306.86 377.34,304.14 379.56,301.55 381.78,299.08 383.98,296.75 386.19,294.54 388.38,292.47 390.57,290.52 392.75,288.71 394.92,287.02 397.08,285.46 399.23,284.02 401.38,282.71 403.51,281.53 405.63,280.47 407.73,279.53 409.83,278.72 411.91,278.02 413.98,277.45 416.03,277.00 418.07,276.66 420.10,276.44 422.11,276.33 424.11,276.34 426.09,276.46 428.05,276.69 430.00,277.03 431.93,277.48 433.84,278.04 435.73,278.69 437.61,279.46 439.47,280.32" stroke="#303030" stroke-width="0.8" fill="none"/>
<polyline points="516.18,331.66 513.65,328.02 511.12,324.49 508.59,321.08 506.05,317.80 503.51,314.64 500.97,311.60 498.43,308.68 495.89,305.89 493.35,303.23 490.81,300.69 488.28,298.28 485.74,295.99 483.21,293.82 480.69,291.78 478.17,289.87 475.66,288.08 473.16,286.41 470.66,284.87 468.17,283.46 465.69,282.16 463.22,280.99 460.76,279.95 458.31,279.02 455.87,278.21 453.45,277.53 451.04,276.96 448.64,276.51 446.25,276.18 443.88,275.96 441.53,275.86 439.19,275.87 436.86,276.00 434.56,276.23 432.27,276.58 430.00,277.03 427.74,277.60 425.51,278.26 423.29,279.04 421.09,279.91 418.91,280.89" stroke="#303030" stroke-width="0.8" fill="none"/>
<polyline points="349.66,338.33 351.87,334.49 354.09,330.77 356.31,327.17 358.53,323.70 360.74,320.36 362.96,317.15 365.18,314.07 367.40,311.11 369.61,308.29 371.82,305.59 374.03,303.02 376.23,300.58 378.43,298.27 380.62,296.08 382.81,294.03 384.99,292.10 387.16,290.30 389.33,288.62 391.48,287.07 393.63,285.64 395.77,284.34 397.89,283.17 400.01,282.11 402.11,281.18 404.21,280.37 406.29,279.68 408.36,279.10 410.41,278.65 412.45,278.31 414.48,278.08 416.49,277.97 418.49,277.97 420.48,278.08 422.44,278.31 424.39,278.64 426.33,279.07 428.25,279.61 430.15,280.26 432.04,281.01 433.90,281.85" stroke="#303030" stroke-width="0.8" fill="none"/>
<polyline points="520.32,332.43 517.82,328.82 515.32,325.34 512.81,321.97 510.30,318.73 507.79,315.60 505.27,312.60 502.76,309.72 500.24,306.96 497.73,304.33 495.21,301.82 492.70,299.43 490.19,297.17 487.69,295.03 485.18,293.01 482.69,291.12 480.19,289.34 477.71,287.70 475.23,286.17 472.76,284.77 470.30,283.49 467.85,282.33 465.40,281.29 462.97,280.37 460.55,279.57 458.14,278.89 455.74,278.32 453.35,277.87 450.98,277.54 448.62,277.32 446.28,277.22 443.95,277.22 441.63,277.34 439.33,277.57 437.05,277.91 434.79,278.35 432.54,278.90 430.31,279.56 428.10,280.32 425.90,281.18 423.73,282.14" stroke="#303030" stroke-width="0.8" fill="none"/>
<polyline points="344.46,340.13 346.66,336.33 348.85,332.65 351.05,329.09 353.25,325.66 355.46,322.36 357.66,319.18 359.86,316.13 362.06,313.20 364.26,310.40 366.46,307.73 368.66,305.19 370.85,302.77 373.03,300.48 375.21,298.31 377.39,296.27 379.56,294.36 381.72,292.57 383.88,290.90 386.03,289.37 388.17,287.95 390.30,286.66 392.42,285.48 394.53,284.43 396.63,283.50 398.72,282.69 400.80,282.00 402.87,281.42 404.92,280.96 406.96,280.62 408.99,280.39 411.00,280.27 413.00,280.26 414.99,280.36 416.96,280.57 418.91,280.89 420.85,281.31 422.77,281.84 424.68,282.46 426.57,283.19 428.45,284.02" stroke="#303030" stroke-width="0.8" fill="none"/>
<polyline points="524.31,333.87 521.84,330.31 519.36,326.87 516.88,323.55 514.40,320.34 511.92,317.25 509.43,314.29 506.94,311.44 504.45,308.72 501.96,306.11 499.47,303.63 496.98,301.27 494.50,299.03 492.01,296.91 489.53,294.92 487.06,293.04 484.59,291.29 482.13,289.66 479.67,288.15 477.22,286.76 474.77,285.49 472.34,284.34 469.91,283.31 467.50,282.39 465.09,281.59 462.70,280.91 460.31,280.35 457.94,279.90 455.58,279.57 453.24,279.34 450.91,279.23 448.59,279.23 446.29,279.34 444.00,279.56 441.73,279.89 439.47,280.32 437.23,280.86 435.01,281.50 432.80,282.24 430.61,283.08 428.45,284.02" stroke="#303030" stroke-width="0.8" fill="none"/>
<circle cx="433.00" cy="287.30" r="1.9" fill="#000"/>
<circle cx="444.00" cy="407.20" r="0.9" fill="#000"/>
<circle cx="438.40" cy="303.10" r="2.0" fill="#000"/>
<text x="308.90" y="234.70" font-size="9.5" text-anchor="start" fill="#111" font-weight="bold" textLength="12.70" lengthAdjust="spacingAndGlyphs" >(D)</text>
<text x="359.40" y="246.60" font-size="9" text-anchor="start" fill="#111" textLength="169.20" lengthAdjust="spacingAndGlyphs" >Nf=140.00+1.38*x+1.39*y-0.008c*x<tspan dy="-4" font-size="6">2</tspan><tspan dy="4">-0.007*y<tspan dy="-4" font-size="6">2</tspan><tspan dy="4"></tspan></tspan></text>
<text x="428.90" y="256.60" font-size="9" text-anchor="start" fill="#111" >R<tspan dy="-4" font-size="6">2</tspan><tspan dy="4">=0.92</tspan></text>
<text x="318.00" y="370.40" font-size="10.5" text-anchor="start" fill="#111" textLength="82.60" lengthAdjust="spacingAndGlyphs" transform="rotate(-94.40 318.00 370.40)" >Mumber of fruits/plant</text>
<text x="343.41" y="382.95" font-size="10" text-anchor="end" fill="#111" >200</text>
<text x="342.33" y="369.25" font-size="10" text-anchor="end" fill="#111" >210</text>
<text x="341.22" y="355.20" font-size="10" text-anchor="end" fill="#111" >220</text>
<text x="340.08" y="340.78" font-size="10" text-anchor="end" fill="#111" >230</text>
<text x="338.91" y="325.99" font-size="10" text-anchor="end" fill="#111" >240</text>
<text x="337.71" y="310.81" font-size="10" text-anchor="end" fill="#111" >250</text>
<text x="336.47" y="295.22" font-size="10" text-anchor="end" fill="#111" >260</text>
<text x="335.21" y="279.20" font-size="10" text-anchor="end" fill="#111" >270</text>
<text x="328.30" y="180.80" font-size="10" text-anchor="middle" dominant-baseline="central" fill="#111" transform="rotate(-30.00 328.30 180.80)">120</text>
<text x="364.00" y="188.40" font-size="10" text-anchor="middle" dominant-baseline="central" fill="#111" transform="rotate(-30.00 364.00 188.40)">90</text>
<text x="401.30" y="198.60" font-size="10" text-anchor="middle" dominant-baseline="central" fill="#111" transform="rotate(-30.00 401.30 198.60)">60</text>
<text x="441.70" y="209.20" font-size="10" text-anchor="middle" dominant-baseline="central" fill="#111" transform="rotate(-30.00 441.70 209.20)">30</text>
<text x="368.40" y="207.60" font-size="11" text-anchor="middle" dominant-baseline="central" fill="#111" textLength="66.00" lengthAdjust="spacingAndGlyphs" transform="rotate(14.00 368.40 207.60)">N doses(g/plant)</text>
<text x="457.80" y="200.70" font-size="10" text-anchor="middle" dominant-baseline="central" fill="#111" transform="rotate(0.00 457.80 200.70)">30</text>
<text x="484.10" y="186.20" font-size="10" text-anchor="middle" dominant-baseline="central" fill="#111" transform="rotate(0.00 484.10 186.20)">60</text>
<text x="506.90" y="173.80" font-size="10" text-anchor="middle" dominant-baseline="central" fill="#111" transform="rotate(0.00 506.90 173.80)">90</text>
<text x="529.90" y="162.20" font-size="10" text-anchor="middle" dominant-baseline="central" fill="#111" transform="rotate(0.00 529.90 162.20)">120</text>
<text x="507.30" y="192.00" font-size="10" text-anchor="middle" dominant-baseline="central" fill="#111" transform="rotate(-30.00 507.30 192.00)">K doses (g/plant)</text>
<text x="343.60" y="388.60" font-size="10" text-anchor="middle" dominant-baseline="central" fill="#111" transform="rotate(-42.00 343.60 388.60)">120</text>
<text x="374.40" y="399.80" font-size="10" text-anchor="middle" dominant-baseline="central" fill="#111" transform="rotate(-42.00 374.40 399.80)">90</text>
<text x="406.60" y="412.80" font-size="10" text-anchor="middle" dominant-baseline="central" fill="#111" transform="rotate(-42.00 406.60 412.80)">60</text>
<text x="441.40" y="427.60" font-size="10" text-anchor="middle" dominant-baseline="central" fill="#111" transform="rotate(-42.00 441.40 427.60)">30</text>
<text x="368.60" y="420.30" font-size="10.5" text-anchor="middle" dominant-baseline="central" fill="#111" textLength="68.00" lengthAdjust="spacingAndGlyphs" transform="rotate(24.00 368.60 420.30)">N doses (g/plant)</text>
<text x="454.10" y="421.00" font-size="10" text-anchor="middle" dominant-baseline="central" fill="#111" transform="rotate(0.00 454.10 421.00)">30</text>
<text x="482.50" y="403.30" font-size="10" text-anchor="middle" dominant-baseline="central" fill="#111" transform="rotate(0.00 482.50 403.30)">60</text>
<text x="508.10" y="386.80" font-size="10" text-anchor="middle" dominant-baseline="central" fill="#111" transform="rotate(0.00 508.10 386.80)">90</text>
<text x="534.00" y="372.20" font-size="10" text-anchor="middle" dominant-baseline="central" fill="#111" transform="rotate(0.00 534.00 372.20)">120</text>
<text x="508.90" y="406.00" font-size="10" text-anchor="middle" dominant-baseline="central" fill="#111" transform="rotate(-32.00 508.90 406.00)">N doses (g/plant)</text>
</svg></body></html>
